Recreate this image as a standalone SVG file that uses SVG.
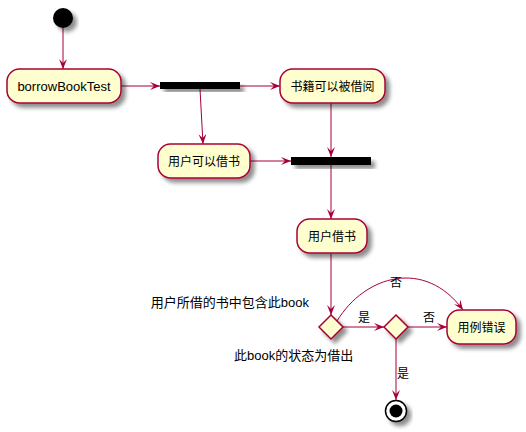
<svg xmlns="http://www.w3.org/2000/svg" width="526" height="432" viewBox="0 0 526 432">
<style>
.node{fill:#FEFECE;stroke:#A80036;stroke-width:1.5;filter:url(#sh)}
.bar{fill:#000000;filter:url(#sh)}
.edge{fill:none;stroke:#A80036;stroke-width:1;marker-end:url(#arr)}
.t{font-family:"Liberation Sans","Noto Sans CJK SC",sans-serif;font-size:12px;fill:#000000;text-anchor:middle}
.tl{font-family:"Liberation Sans","Noto Sans CJK SC",sans-serif;font-size:13px;fill:#000000}
.lab{font-family:"Liberation Sans","Noto Sans CJK SC",sans-serif;font-size:12px;fill:#000000}
</style>
<defs>
<filter id="sh" x="-20%" y="-20%" width="150%" height="160%">
<feGaussianBlur in="SourceAlpha" stdDeviation="2"/>
<feOffset dx="4" dy="4" result="b"/>
<feComponentTransfer><feFuncA type="linear" slope="0.45"/></feComponentTransfer>
<feMerge><feMergeNode/><feMergeNode in="SourceGraphic"/></feMerge>
</filter>
<marker id="arr" markerWidth="10" markerHeight="8" refX="10" refY="4" orient="auto" markerUnits="userSpaceOnUse">
<path d="M0,0 L10,4 L0,8 L4,4 Z" fill="#A80036"/>
</marker>
</defs>
<g id="connectors">
<line class="edge" x1="63" y1="28" x2="63" y2="69"/>
<line class="edge" x1="121" y1="86" x2="160" y2="86"/>
<line class="edge" x1="240" y1="86" x2="280" y2="86"/>
<line class="edge" x1="200" y1="89" x2="203" y2="144"/>
<line class="edge" x1="331" y1="103" x2="331" y2="157"/>
<line class="edge" x1="250" y1="161" x2="291" y2="161"/>
<line class="edge" x1="331" y1="165" x2="331" y2="219"/>
<line class="edge" x1="331" y1="253" x2="331" y2="315"/>
<line class="edge" x1="343" y1="327" x2="384" y2="327"/>
<line class="edge" x1="408" y1="327" x2="447" y2="327"/>
<line class="edge" x1="396" y1="339" x2="396" y2="400"/>
<path class="edge" d="M337,321 C365,275 425,258 463,310"/>
<text class="lab" x="358" y="322">是</text>
<text class="lab" x="423" y="322">否</text>
<text class="lab" x="390" y="287">否</text>
<text class="lab" x="397" y="378">是</text>
</g>
<g id="start"><circle cx="63" cy="18" r="10" fill="#000000" filter="url(#sh)"/></g>
<g id="borrowBookTest"><rect class="node" x="7" y="69" width="114" height="34" rx="12.5"/><text class="tl" x="64" y="91" text-anchor="middle">borrowBookTest</text></g>
<g id="fork"><rect class="bar" x="160" y="82" width="80" height="7"/></g>
<g id="book-available"><rect class="node" x="280" y="69" width="105" height="34" rx="12.5"/><text class="t" x="332.5" y="90.5">书籍可以被借阅</text></g>
<g id="user-can-borrow"><rect class="node" x="158" y="144" width="92" height="34" rx="12.5"/><text class="t" x="204" y="165.5">用户可以借书</text></g>
<g id="join"><rect class="bar" x="291" y="157" width="80" height="8"/></g>
<g id="user-borrow"><rect class="node" x="297" y="219" width="70" height="34" rx="12.5"/><text class="t" x="332" y="240.5">用户借书</text></g>
<g id="decision1"><polygon class="node" points="331,315 343,327 331,339 319,327"/><text class="tl" x="309" y="307" text-anchor="end">用户所借的书中包含此book</text></g>
<g id="decision2"><polygon class="node" points="396,315 408,327 396,339 384,327"/><text class="tl" x="234" y="360">此book的状态为借出</text></g>
<g id="test-error"><rect class="node" x="447" y="310" width="69" height="34" rx="12.5"/><text class="t" x="481.5" y="331.5">用例错误</text></g>
<g id="end"><circle cx="396" cy="411" r="10.5" fill="#FFFFFF" stroke="#000000" stroke-width="1.5" filter="url(#sh)"/><circle cx="396" cy="411" r="6.5" fill="#000000"/></g>
</svg>
